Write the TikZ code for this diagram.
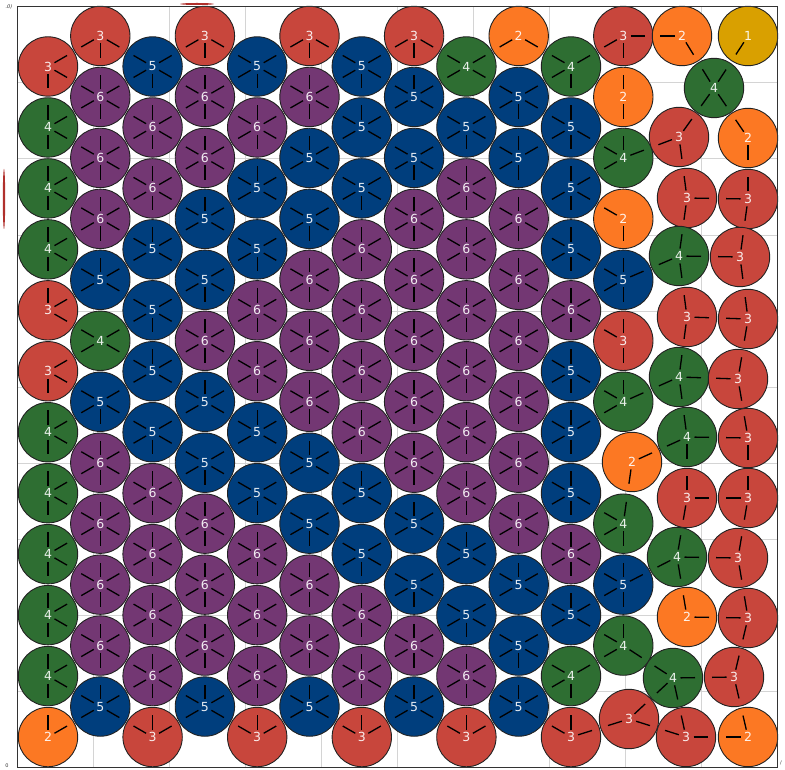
\documentclass[tikz,border=0pt]{standalone}
\usepackage{fontspec}
\usepackage{tikz}
\usetikzlibrary{calc}
\newfontfamily\discfont{DejaVu Sans}
\definecolor{rim}{HTML}{222222}
\definecolor{frameline}{HTML}{333333}
\definecolor{gridline}{HTML}{D4D4D4}
\definecolor{sliver}{HTML}{B0302C}
\definecolor{tone1}{HTML}{D9A000}
\definecolor{tone2}{HTML}{FC7823}
\definecolor{tone3}{HTML}{C8463C}
\definecolor{tone4}{HTML}{2E6E32}
\definecolor{tone5}{HTML}{003E7D}
\definecolor{tone6}{HTML}{733773}

\newcommand\allspokes{30,90,150,210,270,330}
\newcommand\noupper{30,150,210,270,330}
\newcommand\nolower{30,90,150,210,330}
\newcommand\wallside{30,90,270,330}

% disc on the hexagonal grid: column, row, contacts, spoke angles
\newcommand\gdisc[4]{%
  \pgfmathsetmacro\gx{48+52.3*#1}%
  \pgfmathsetmacro\gy{733-30.48*(2*#2+mod(#1+1,2))}%
  \node[disc=#3] (d#1-#2) at (\gx,\gy) {#3};
  \edef\spokelist{#4}%
  \foreach \ang in \spokelist
    \draw[spoke] (d#1-#2.center) ++(\ang:7.5) -- ++(\ang:14.5);
}
\newcommand\contact[2]{%
  \draw[spoke] ($(#1.center)!7.5pt!(#2.center)$) -- ($(#1.center)!22pt!(#2.center)$);
  \draw[spoke] ($(#2.center)!7.5pt!(#1.center)$) -- ($(#2.center)!22pt!(#1.center)$);
}

\begin{document}
\begin{tikzpicture}[
  x=1pt, y=1pt,
  disc/.style={circle, draw=rim, line width=0.9pt, minimum size=59.4pt, inner sep=0pt,
    fill=tone#1, text=white, text opacity=0.9, font={\discfont\fontsize{12.5}{13}\selectfont}},
  spoke/.style={line width=1.3pt, black},
  tiny/.style={inner sep=0pt, text=black!80, font={\discfont\fontsize{5}{5}\selectfont}},
]
  \useasboundingbox (0,0) rectangle (785,769);

  \foreach \i in {1,...,9} {
    \draw[gridline, line width=0.8pt] (17.3+76.04*\i,1.3) -- (17.3+76.04*\i,762.3);
    \draw[gridline, line width=0.8pt] (17.3,1.3+76.1*\i) -- (777.7,1.3+76.1*\i);
  }

  \foreach \row/\num/\set in {0/3/{270,30,330}, 1/4/\wallside, 2/4/\wallside, 3/4/\wallside,
      4/3/{90,30,330}, 5/3/{270,30,330}, 6/4/\wallside, 7/4/\wallside, 8/4/\wallside,
      9/4/\wallside, 10/4/\wallside, 11/2/{90,30}}
    {\gdisc{0}{\row}{\num}{\set}}
  \foreach \row/\num/\set in {0/3/{210,270,330}, 1/6/\allspokes, 2/6/\allspokes, 3/6/\allspokes,
      4/5/\nolower, 5/4/{30,150,210,330}, 6/5/\noupper, 7/6/\allspokes, 8/6/\allspokes,
      9/6/\allspokes, 10/6/\allspokes, 11/5/\nolower}
    {\gdisc{1}{\row}{\num}{\set}}
  \foreach \row/\num/\set in {0/5/\noupper, 1/6/\allspokes, 2/6/\allspokes, 3/5/\nolower,
      4/5/\noupper, 5/5/\nolower, 6/5/\noupper, 7/6/\allspokes, 8/6/\allspokes,
      9/6/\allspokes, 10/6/\allspokes, 11/3/{30,90,150}}
    {\gdisc{2}{\row}{\num}{\set}}
  \foreach \row/\num/\set in {0/3/{210,270,330}, 1/6/\allspokes, 2/6/\allspokes, 3/5/\nolower,
      4/5/\noupper, 5/6/\allspokes, 6/5/\nolower, 7/5/\noupper, 8/6/\allspokes,
      9/6/\allspokes, 10/6/\allspokes, 11/5/\nolower}
    {\gdisc{3}{\row}{\num}{\set}}
  \foreach \row/\num/\set in {0/5/\noupper, 1/6/\allspokes, 2/5/\nolower, 3/5/\noupper,
      4/6/\allspokes, 5/6/\allspokes, 6/5/\nolower, 7/5/\noupper, 8/6/\allspokes,
      9/6/\allspokes, 10/6/\allspokes, 11/3/{30,90,150}}
    {\gdisc{4}{\row}{\num}{\set}}
  \foreach \row/\num/\set in {0/3/{210,270,330}, 1/6/\allspokes, 2/5/\nolower, 3/5/\noupper,
      4/6/\allspokes, 5/6/\allspokes, 6/6/\allspokes, 7/5/\nolower, 8/5/\noupper,
      9/6/\allspokes, 10/6/\allspokes, 11/5/\nolower}
    {\gdisc{5}{\row}{\num}{\set}}
  \foreach \row/\num/\set in {0/5/\noupper, 1/5/\nolower, 2/5/\noupper, 3/6/\allspokes,
      4/6/\allspokes, 5/6/\allspokes, 6/6/\allspokes, 7/5/\nolower, 8/5/\noupper,
      9/6/\allspokes, 10/6/\allspokes, 11/3/{30,90,150}}
    {\gdisc{6}{\row}{\num}{\set}}
  \foreach \row/\num/\set in {0/3/{210,270,330}, 1/5/\nolower, 2/5/\noupper, 3/6/\allspokes,
      4/6/\allspokes, 5/6/\allspokes, 6/6/\allspokes, 7/6/\allspokes, 8/5/\nolower,
      9/5/\noupper, 10/6/\allspokes, 11/5/\nolower}
    {\gdisc{7}{\row}{\num}{\set}}
  \foreach \row/\num/\set in {0/4/{30,150,210,330}, 1/5/\noupper, 2/6/\allspokes, 3/6/\allspokes,
      4/6/\allspokes, 5/6/\allspokes, 6/6/\allspokes, 7/6/\allspokes, 8/5/\nolower,
      9/5/\noupper, 10/6/\allspokes, 11/3/{30,90,150}}
    {\gdisc{8}{\row}{\num}{\set}}
  \foreach \row/\num/\set in {0/2/{210,330}, 1/5/\noupper, 2/5/{30,90,150,210,270},
      3/6/\allspokes, 4/6/\allspokes, 5/6/\allspokes, 6/6/\allspokes, 7/6/\allspokes,
      8/6/\allspokes, 9/5/\nolower, 10/5/\noupper, 11/5/\nolower}
    {\gdisc{9}{\row}{\num}{\set}}
  \foreach \row/\num/\set in {0/4/{30,150,210,270}, 1/5/{90,150,210,270,330},
      2/5/{30,90,210,270,330}, 3/5/{90,150,210,270,330}, 4/6/\allspokes,
      5/5/{90,150,210,270,330}, 6/5/{30,90,150,210,270}, 7/5/{90,150,210,270,330},
      8/6/\allspokes, 9/5/\nolower, 10/4/{30,150,210,270}, 11/3/{90,150}}
    {\gdisc{10}{\row}{\num}{\set}}
  \foreach \row/\num/\set in {0/3/{210,270}, 1/2/{90,270}, 2/4/{90,150,210}, 3/2/{150,270},
      4/5/{90,150,210,270}, 5/3/{90,150,270}, 6/4/{90,150,210}, 8/4/{150,210,270},
      9/5/{90,150,210,270}, 10/4/{90,150,210}}
    {\gdisc{11}{\row}{\num}{\set}}

  \node[disc=2] (d11-7) at (632,307) {2};
  \node[disc=3] (d11-11) at (629,50) {3};
  \node[disc=2] (rA) at (682,733) {2};
  \node[disc=1] (rB) at (748,733) {1};
  \node[disc=4] (rC) at (714,681) {4};
  \node[disc=3] (rD) at (679,632) {3};
  \node[disc=2] (rE) at (748,631) {2};
  \node[disc=3] (rF) at (687,571) {3};
  \node[disc=3] (rG) at (748,570) {3};
  \node[disc=4] (rH) at (679,513) {4};
  \node[disc=3] (rI) at (740,512) {3};
  \node[disc=3] (rJ) at (687,452) {3};
  \node[disc=3] (rK) at (748,450) {3};
  \node[disc=4] (rL) at (679,392) {4};
  \node[disc=3] (rM) at (738,390) {3};
  \node[disc=4] (rN) at (687,332) {4};
  \node[disc=3] (rO) at (748,331) {3};
  \node[disc=3] (rP) at (687,271) {3};
  \node[disc=3] (rQ) at (748,271) {3};
  \node[disc=4] (rR) at (677,212) {4};
  \node[disc=3] (rS) at (738,211) {3};
  \node[disc=2] (rT) at (687,152) {2};
  \node[disc=3] (rU) at (748,151) {3};
  \node[disc=4] (rV) at (673,91) {4};
  \node[disc=3] (rW) at (734,92) {3};
  \node[disc=3] (rX) at (686,32) {3};
  \node[disc=2] (rY) at (748,32) {2};

  \foreach \p/\q in {d11-0/rA, rA/rC, rB/rC, rC/rD, rC/rE, rD/d11-2, rD/rF, rE/rG, rF/rG,
      rF/rH, rG/rI, rH/rI, rH/d11-4, rH/rJ, rI/rK, rJ/rK, rJ/rL, rK/rM, rL/rM, rL/d11-6,
      rL/rN, rM/rO, rN/rO, rN/d11-7, rN/rP, rO/rQ, rP/rQ, rP/rR, rQ/rS, rR/rS, rR/d11-9,
      rR/rT, rS/rU, rT/rU, rU/rW, rV/rW, rV/d11-10, rV/d11-11, rV/rX, rW/rY, rX/rY,
      rX/d11-11, d11-11/d10-11, d11-7/d11-8}
    {\contact{\p}{\q}}

  \draw[frameline, line width=1pt] (17.3,1.3) rectangle (777.7,762.3);
  \fill[sliver] (4,570) ellipse (1.2 and 30);
  \fill[sliver] (197,765) ellipse (17 and 1);
  \node[tiny] (toplab) at (9,762) {\textit{.0)}};
  \node[tiny] (origin) at (7,3) {0};
  \node[tiny] (corner) at (781,6) {/};
\end{tikzpicture}
\end{document}
